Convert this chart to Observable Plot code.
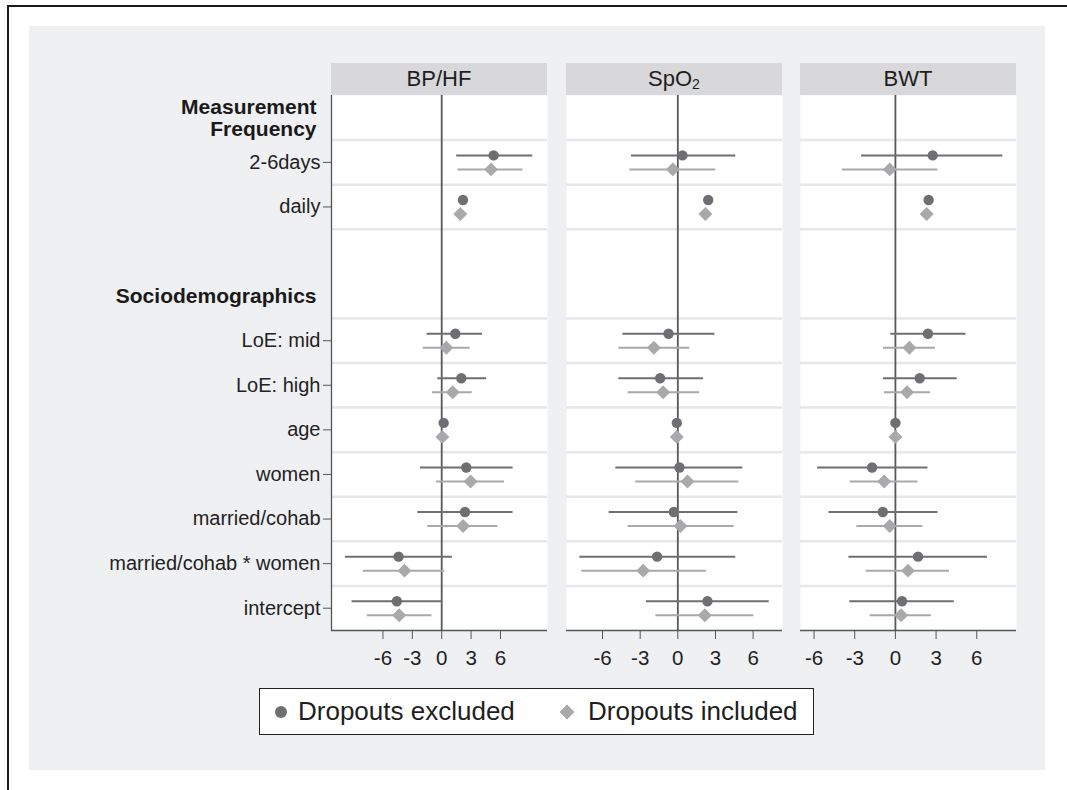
<!DOCTYPE html>
<html>
<head>
<meta charset="utf-8">
<script src="https://cdn.jsdelivr.net/npm/d3@7"></script>
<script src="https://cdn.jsdelivr.net/npm/@observablehq/plot@0.6"></script>
<style>
  html, body { margin: 0; padding: 0; background: #ffffff; }
  body { width: 1067px; height: 790px; position: relative; overflow: hidden; font-family: "Liberation Sans", Arial, sans-serif; }
  #frame { position: absolute; left: 7px; top: 5px; width: 1100px; height: 820px; border-top: 2px solid #1a1a1a; border-left: 2px solid #1a1a1a; }
  #bg { position: absolute; left: 29px; top: 26px; width: 1016px; height: 744px; background: #eff0f2; }
  .strip { position: absolute; top: 63px; height: 32px; background: #d8d8da; color: #1e1e1e; font-size: 22px; line-height: 32px; text-align: center; }
  .strip sub { font-size: 14px; vertical-align: -3px; line-height: 0; }
  .panel { position: absolute; top: 95px; }
  .panel svg { overflow: visible; }
  #legend { position: absolute; left: 259px; top: 688px; width: 553px; height: 45px; border: 1.5px solid #222; background: #ffffff; font-size: 26px; color: #1e1e1e; }
  .litem { position: absolute; top: 0; height: 45px; line-height: 45px; white-space: nowrap; }
  .litem svg { position: absolute; top: 14px; }
</style>
</head>
<body>
<div id="frame"></div>
<div id="bg"></div>
<div id="root"></div>
<script>
// ---- data ----
const rowLabels = ["Measurement\nFrequency", "2-6days", "daily", "", "Sociodemographics", "LoE: mid", "LoE: high", "age", "women", "married/cohab", "married/cohab * women", "intercept"];
const headerRows = ["Measurement\nFrequency", "Sociodemographics"];
const coefRows = ["2-6days", "daily", "LoE: mid", "LoE: high", "age", "women", "married/cohab", "married/cohab * women", "intercept"];
const panelNames = ["BP/HF", "SpO2", "BWT"];
const seriesNames = ["Dropouts excluded", "Dropouts included"];
const xTicks = [-6, -3, 0, 3, 6];

// BP/HF
const bpExclEst = [5.3, 2.17, 1.39, 2.0, 0.2, 2.51, 2.38, -4.4, -4.58];
const bpExclLo  = [1.53, 1.92, -1.49, -0.4, 0.1, -2.17, -2.44, -9.83, -9.15];
const bpExclHi  = [9.3, 2.42, 4.17, 4.58, 0.3, 7.29, 7.29, 1.09, 0.0];
const bpInclEst = [5.04, 1.9, 0.47, 1.12, 0.07, 2.95, 2.18, -3.8, -4.34];
const bpInclLo  = [1.66, 1.65, -1.9, -0.95, -0.03, -0.54, -1.42, -8.0, -7.6];
const bpInclHi  = [8.3, 2.15, 2.9, 3.12, 0.17, 6.41, 5.74, 0.3, -1.0];
// SpO2
const spExclEst = [0.37, 2.42, -0.74, -1.41, -0.08, 0.13, -0.32, -1.65, 2.36];
const spExclLo  = [-3.69, 2.17, -4.38, -4.7, -0.18, -4.94, -5.47, -7.81, -2.5];
const spExclHi  = [4.62, 2.67, 2.95, 2.05, 0.02, 5.18, 4.78, 4.62, 7.28];
const spInclEst = [-0.4, 2.2, -1.91, -1.17, -0.08, 0.77, 0.21, -2.76, 2.15];
const spInclLo  = [-3.82, 1.95, -4.7, -3.96, -0.18, -3.35, -3.96, -7.65, -1.75];
const spInclHi  = [3.03, 2.45, 0.96, 1.73, 0.02, 4.86, 4.49, 2.28, 6.06];
// BWT
const bwExclEst = [2.75, 2.45, 2.4, 1.79, 0.0, -1.72, -0.93, 1.67, 0.49];
const bwExclLo  = [-2.5, 2.2, -0.34, -0.88, -0.1, -5.74, -4.9, -3.43, -3.36];
const bwExclHi  = [7.92, 2.7, 5.2, 4.56, 0.1, 2.4, 3.14, 6.79, 4.34];
const bwInclEst = [-0.42, 2.3, 1.03, 0.86, 0.0, -0.83, -0.42, 0.93, 0.42];
const bwInclLo  = [-3.9, 2.05, -0.88, -0.81, -0.1, -3.33, -2.84, -2.15, -1.86];
const bwInclHi  = [3.14, 2.55, 2.94, 2.6, 0.1, 1.67, 2.03, 3.99, 2.65];

// x-axis ranges of each panel (independent scales)
const xDomains = [[-11.25, 10.8], [-8.87, 8.34], [-7.0, 8.93]];

// ---- layout (styles) ----
const font = '"Liberation Sans", Arial, sans-serif';
const colExcl = "#6f6f73", colIncl = "#a9a9ab";
const panelLeft = [331, 566, 800];
const panelWidth = 216;
const plotH = 535, mBottom = 50, yLabelSpace = 301;

function build(est, lo, hi, series) {
  return coefRows.map((r, i) => ({row: rowLabels.indexOf(r), est: est[i], lo: lo[i], hi: hi[i], series}));
}
const panelData = [
  [build(bpExclEst, bpExclLo, bpExclHi, seriesNames[0]), build(bpInclEst, bpInclLo, bpInclHi, seriesNames[1])],
  [build(spExclEst, spExclLo, spExclHi, seriesNames[0]), build(spInclEst, spInclLo, spInclHi, seriesNames[1])],
  [build(bwExclEst, bwExclLo, bwExclHi, seriesNames[0]), build(bwInclEst, bwInclLo, bwInclHi, seriesNames[1])]
];

const nRows = rowLabels.length;
const yDomain = [nRows - 0.5, -0.5];
// grid lines between rows (none after the empty spacer row)
const gridAt = d3.range(nRows - 1).filter(i => rowLabels[i] !== "").map(i => i + 0.5);
const coefIdx = coefRows.map(r => rowLabels.indexOf(r));
const headerData = headerRows.map(h => ({row: rowLabels.indexOf(h), label: h}));

const root = document.getElementById("root");

panelNames.forEach((name, p) => {
  const [excl, incl] = panelData[p];
  const showY = p === 0;
  const marks = [
    Plot.frame({fill: "white", stroke: null}),
    Plot.ruleY(gridAt, {stroke: "#e7e7e9", strokeWidth: 2.5}),
    Plot.ruleX([0], {stroke: "#58585c", strokeWidth: 1.8}),
    Plot.ruleY([yDomain[0]], {stroke: "#555", strokeWidth: 1.3}),
    Plot.ruleY(excl, {y: "row", x1: "lo", x2: "hi", dy: -7, stroke: colExcl, strokeWidth: 2}),
    Plot.ruleY(incl, {y: "row", x1: "lo", x2: "hi", dy: 7, stroke: colIncl, strokeWidth: 2}),
    Plot.dot(excl, {x: "est", y: "row", dy: -7, r: 5.2, symbol: "circle", fill: colExcl, stroke: null}),
    Plot.dot(incl, {x: "est", y: "row", dy: 7, r: 6.3, symbol: "diamond2", fill: colIncl, stroke: null}),
    Plot.axisX({ticks: xTicks, tickFormat: d => String(d), tickSize: 9, tickPadding: 11, fontSize: 20.5, label: null, color: "#222", stroke: "#555"})
  ];
  if (showY) {
    marks.push(
      Plot.ruleX([xDomains[p][0]], {stroke: "#555", strokeWidth: 1.3}),
      Plot.axisY({ticks: coefIdx, tickFormat: i => rowLabels[i], tickSize: 8, tickPadding: 3, fontSize: 20, label: null, color: "#222", stroke: "#555"}),
      Plot.text(headerData, {y: "row", text: "label", frameAnchor: "left", dx: -15, textAnchor: "end", fontWeight: "bold", fontSize: 21, lineHeight: 1.08, fill: "#1a1a1a"})
    );
  }
  const chart = Plot.plot({
    width: panelWidth + (showY ? yLabelSpace : 0),
    height: plotH + mBottom,
    marginTop: 0,
    marginBottom: mBottom,
    marginLeft: showY ? yLabelSpace : 0,
    marginRight: 0,
    style: {fontFamily: font, background: "transparent", overflow: "visible"},
    x: {domain: xDomains[p]},
    y: {domain: yDomain, axis: showY ? undefined : null},
    marks
  });
  const wrap = document.createElement("div");
  wrap.className = "panel";
  wrap.style.left = (panelLeft[p] - (showY ? yLabelSpace : 0)) + "px";
  wrap.appendChild(chart);
  root.appendChild(wrap);

  const strip = document.createElement("div");
  strip.className = "strip";
  strip.style.left = panelLeft[p] + "px";
  strip.style.width = panelWidth + "px";
  if (name === "SpO2") strip.innerHTML = "SpO<sub>2</sub>"; else strip.textContent = name;
  root.appendChild(strip);
});

// legend
const legend = document.createElement("div");
legend.id = "legend";
const items = [
  {label: seriesNames[0], left: 12, text: 38, sym: "circle", fill: colExcl},
  {label: seriesNames[1], left: 298, text: 328, sym: "diamond", fill: colIncl}
];
items.forEach(it => {
  const d = document.createElement("div");
  d.className = "litem";
  d.style.left = it.left + "px";
  const shape = it.sym === "circle"
    ? `<circle cx="9" cy="9" r="6" fill="${it.fill}"/>`
    : `<path d="M9,1.5L16.5,9L9,16.5L1.5,9Z" fill="${it.fill}"/>`;
  d.innerHTML = `<svg width="18" height="18">${shape}</svg><span style="position:absolute;left:${it.text - it.left}px;">${it.label}</span>`;
  legend.appendChild(d);
});
root.appendChild(legend);
</script>
</body>
</html>
